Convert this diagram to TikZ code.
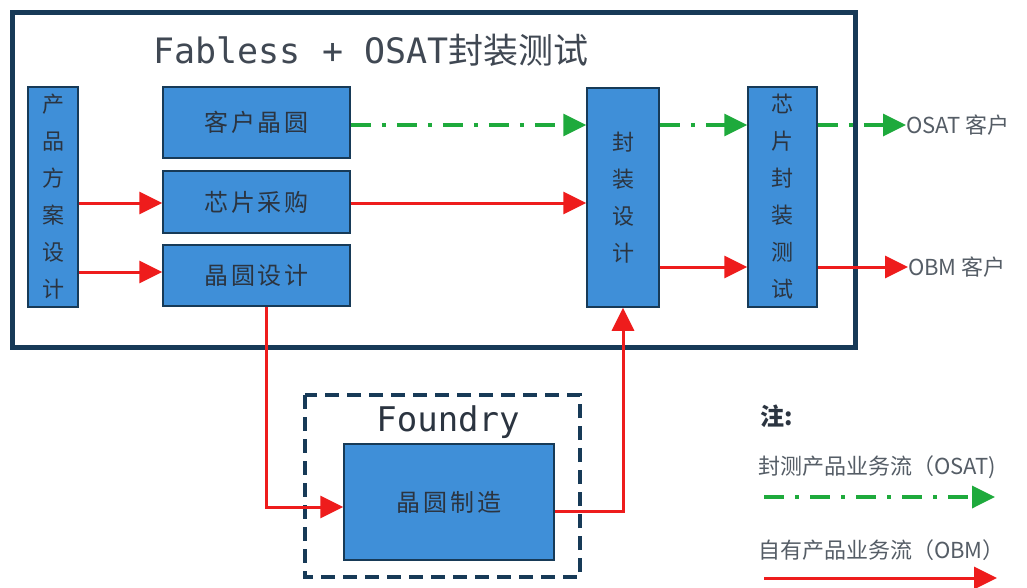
\documentclass[tikz,border=0pt]{standalone}
\usepackage{fontspec}
\setmainfont{Noto Sans CJK SC}
\newfontfamily\cjk{Noto Sans CJK SC}
\newfontfamily\monofnt{DejaVu Sans Mono}
\newfontfamily\boxfnt[LetterSpace=12]{Noto Sans CJK SC}
\usetikzlibrary{arrows.meta}
\definecolor{framecol}{HTML}{173A57}
\definecolor{boxblue}{HTML}{3F8FD8}
\definecolor{flowred}{HTML}{EE1C1C}
\definecolor{flowgreen}{HTML}{1EAA3C}
\definecolor{txtcol}{HTML}{2B3440}

\begin{document}
\begin{tikzpicture}[x=1pt,y=-1pt,
        box/.style={draw=framecol,line width=1.5pt,fill=boxblue,text=txtcol,inner sep=0pt},
        hbox/.style={box,font=\boxfnt\fontsize{24}{28}\selectfont},
        vbox/.style={box,align=center,font=\cjk\fontsize{22}{37}\selectfont},
        redflow/.style={flowred,line width=3pt,-{Triangle[length=23pt,width=22pt]}},
        greenflow/.style={flowgreen,line width=3.5pt,dash pattern=on 20pt off 11pt on 4pt off 11pt,-{Triangle[length=23pt,width=22pt]}},
        lbl/.style={text=txtcol!80,font=\fontsize{22}{24}\selectfont,inner sep=0pt}]
            \useasboundingbox (0,0) rectangle (1027,587);
            \draw [framecol,line width=5pt] (12,12) rectangle (855,347);
            \draw [framecol,line width=4pt,dash pattern=on 14pt off 8pt] (305,395) rectangle (580,577);

            \node (title) at (371,50) {\fontsize{35}{40}\selectfont\color{txtcol!90}\monofnt Fabless + OSAT\cjk 封装测试};
            \node (foundry) at (448,422) {\fontsize{34}{40}\selectfont\color{txtcol}\monofnt Foundry};

            \node [vbox,minimum width=50pt,minimum height=220pt] (plan) at (53,197) {产\\品\\方\\案\\设\\计};
            \node [hbox,minimum width=187pt,minimum height=71pt] (wafer) at (256.5,122.5) {客户晶圆};
            \node [hbox,minimum width=187pt,minimum height=62pt] (buy) at (256.5,202) {芯片采购};
            \node [hbox,minimum width=187pt,minimum height=61pt] (wdes) at (256.5,275.5) {晶圆设计};
            \node [vbox,minimum width=72pt,minimum height=219pt] (pkg) at (623,197.5) {封\\装\\设\\计};
            \node [vbox,minimum width=69pt,minimum height=220pt] (test) at (782.5,197) {芯\\片\\封\\装\\测\\试};
            \node [hbox,minimum width=210pt,minimum height=116pt] (fab) at (449,502) {晶圆制造};

            \node [lbl,anchor=west] (osat) at (906,125) {OSAT 客户};
            \node [lbl,anchor=west] (obm) at (908,267) {OBM 客户};

            \draw [greenflow] (wafer.east |- 0,125) -- (pkg.west |- 0,125);
            \draw [greenflow] (pkg.east |- osat) -- (test.west |- osat);
            \draw [greenflow] (test.east |- osat) -- (osat.west);

            \draw [redflow] (plan.east |- 0,203) -- (buy.west |- 0,203);
            \draw [redflow] (plan.east |- 0,272) -- (wdes.west |- 0,272);
            \draw [redflow] (buy.east |- 0,203) -- (pkg.west |- 0,203);
            \draw [redflow] (pkg.east |- obm) -- (test.west |- obm);
            \draw [redflow] (test.east |- obm) -- (obm.west);
            \draw [redflow] ([xshift=10pt]wdes.south) |- ([yshift=-5pt]fab.west);
            \draw [redflow] ([yshift=-9pt]fab.east) -| (pkg.south);

            \node [anchor=west,inner sep=0pt,text=txtcol,font=\bfseries\fontsize{24}{28}\selectfont] (note) at (760,416) {注:};
            \node [lbl,anchor=west] (leg1) at (758,467) {封测产品业务流（OSAT)};
            \node [lbl,anchor=west] (leg2) at (758,550) {自有产品业务流（OBM）};
            \coordinate (g1) at (764,497);
            \coordinate (g2) at (995,497);
            \coordinate (r1) at (764,578);
            \coordinate (r2) at (997,578);
            \draw [greenflow] (g1) -- (g2);
            \draw [redflow] (r1) -- (r2);
\end{tikzpicture}
\end{document}
